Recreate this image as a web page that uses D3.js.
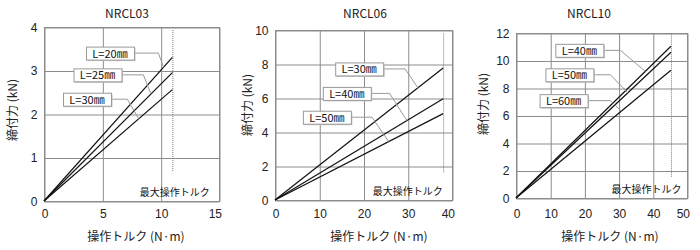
<!DOCTYPE html>
<html>
<head>
<meta charset="utf-8">
<script src="https://cdn.jsdelivr.net/npm/d3@7"></script>
<style>
  body { margin: 0; background: #fff; }
  svg { display: block; font-family: "Noto Sans CJK JP", "Noto Sans", sans-serif; }
  .grid line { stroke: #8c8c8c; stroke-width: 1; }
  .grid path { display: none; }
  .grid text { fill: #222; font-size: 12px; }
</style>
</head>
<body>
<svg width="700" height="250"></svg>
<script>
// chart data
var panelNames = ["NRCL03", "NRCL06", "NRCL10"];
var xMaxes = [15, 40, 50];
var yMaxes = [4, 10, 12];
var xSteps = [5, 10, 10];
var ySteps = [1, 2, 2];
var maxTorques = [11, 38, 45.3];
var lengthLabels = [
  ["L=20㎜", "L=25㎜", "L=30㎜"],
  ["L=30㎜", "L=40㎜", "L=50㎜"],
  ["L=40㎜", "L=50㎜", "L=60㎜"]
];
// force (kN) at max torque, lines start at origin
var forceAtMax = [
  [3.30, 2.95, 2.56],
  [7.76, 5.96, 5.08],
  [11.04, 10.6, 9.29]
];
var xTitle = "操作トルク (N·m)";
var yTitle = "締付力 (kN)";
var noteText = "最大操作トルク";

// callouts, in data units of each panel
var calloutLeft = [[3.6, 2.53, 1.63], [13.6, 10.8, 6.3], [11.5, 8.6, 6.9]];
var calloutY = [[3.40, 2.90, 2.34], [7.71, 6.27, 4.87], [10.74, 8.96, 7.08]];
var calloutKink = [[9.8, 8.52, 7.14], [29.4, 25.9, 21.9], [30.5, 27.6, 27.6]];
var calloutTarget = [[10.25, 9.17, 8.12], [32.3, 29.8, 25.7], [37.8, 32.7, 30.8]];
var dotTop = [3.93, 9.8, 11.95];
var dotBottom = [0.68, 1.6, 1.55];
var noteEnd = [14.2, 37.9, 48.4];

// layout in pixels
var plots = [
  {left: 44, right: 219, top: 27, bottom: 201, titleX: 127, xTitleX: 136, yTitleX: 13, yTitleY: 110},
  {left: 275, right: 452, top: 30, bottom: 200, titleX: 365, xTitleX: 379, yTitleX: 248, yTitleY: 105},
  {left: 516, right: 687, top: 33, bottom: 198, titleX: 589, xTitleX: 610, yTitleX: 484, yTitleY: 104}
];

var svg = d3.select("svg");

panelNames.forEach(function(name, i) {
  var p = plots[i];
  var x = d3.scaleLinear().domain([0, xMaxes[i]]).range([p.left, p.right]);
  var y = d3.scaleLinear().domain([0, yMaxes[i]]).range([p.bottom, p.top]);
  var g = svg.append("g");
  var w = p.right - p.left, h = p.bottom - p.top;

  var xt = d3.range(0, xMaxes[i] + 0.001, xSteps[i]);
  var yt = d3.range(0, yMaxes[i] + 0.001, ySteps[i]);

  var gx = g.append("g").attr("class", "grid")
    .attr("transform", "translate(0.5," + (p.bottom + 0.5) + ")")
    .call(d3.axisBottom(x).tickValues(xt).tickFormat(d3.format("d"))
      .tickSizeInner(-h).tickSizeOuter(0).tickPadding(209 - p.bottom));
  gx.selectAll(".tick").filter(function(d) { return d === xMaxes[i]; })
    .select("text").attr("text-anchor", "end").attr("x", 2);

  g.append("g").attr("class", "grid")
    .attr("transform", "translate(" + (p.left + 0.5) + ",0.5)")
    .call(d3.axisLeft(y).tickValues(yt).tickFormat(d3.format("d"))
      .tickSizeInner(-w).tickSizeOuter(0).tickPadding(7));

  g.append("rect")
    .attr("x", p.left + 0.5).attr("y", p.top + 0.5)
    .attr("width", w).attr("height", h)
    .attr("fill", "none").attr("stroke", "#8c8c8c");

  // max torque marker
  g.append("line")
    .attr("x1", x(maxTorques[i]) + 0.5).attr("x2", x(maxTorques[i]) + 0.5)
    .attr("y1", y(dotTop[i])).attr("y2", y(dotBottom[i]))
    .attr("stroke", "#777").attr("stroke-dasharray", "1,1");
  g.append("text")
    .attr("x", x(noteEnd[i])).attr("y", p.bottom - 5)
    .attr("text-anchor", "end").attr("font-size", "10px").attr("fill", "#111")
    .text(noteText);

  // curves
  var line = d3.line().x(function(d) { return x(d[0]); }).y(function(d) { return y(d[1]); });
  forceAtMax[i].forEach(function(f) {
    g.append("path")
      .datum([[0, 0], [maxTorques[i], f]])
      .attr("d", line)
      .attr("fill", "none").attr("stroke", "#111").attr("stroke-width", 1.2);
  });

  // callouts
  lengthLabels[i].forEach(function(lab, j) {
    var bx = x(calloutLeft[i][j]), by = y(calloutY[i][j]);
    var bw = 48, bh = 13;
    var tx = calloutTarget[i][j];
    var ty = forceAtMax[i][j] * tx / maxTorques[i];
    g.append("polyline")
      .attr("points", [[bx + bw, by], [x(calloutKink[i][j]), by], [x(tx), y(ty)]].join(" "))
      .attr("fill", "none").attr("stroke", "#999").attr("stroke-width", 1);
    g.append("rect")
      .attr("x", bx + 1.5).attr("y", by - bh / 2 + 1.5)
      .attr("width", bw).attr("height", bh).attr("fill", "#c8c8c8");
    g.append("rect")
      .attr("x", bx + 0.5).attr("y", by - bh / 2 + 0.5)
      .attr("width", bw).attr("height", bh)
      .attr("fill", "#fff").attr("stroke", "#999");
    g.append("text")
      .attr("x", bx + bw / 2).attr("y", by + 4.5)
      .attr("text-anchor", "middle").attr("font-size", "11px").attr("fill", "#111")
      .text(lab);
  });

  // titles
  g.append("text")
    .attr("x", p.titleX).attr("y", 18)
    .attr("text-anchor", "middle").attr("font-size", "12px").attr("fill", "#222")
    .text(name);
  g.append("text")
    .attr("x", p.xTitleX).attr("y", 241)
    .attr("text-anchor", "middle").attr("font-size", "12px").attr("fill", "#222")
    .text(xTitle);
  g.append("text")
    .attr("transform", "translate(" + (p.yTitleX + 4) + "," + p.yTitleY + ") rotate(-90)")
    .attr("text-anchor", "middle").attr("font-size", "12px").attr("fill", "#222")
    .text(yTitle);
});
</script>
</body>
</html>
